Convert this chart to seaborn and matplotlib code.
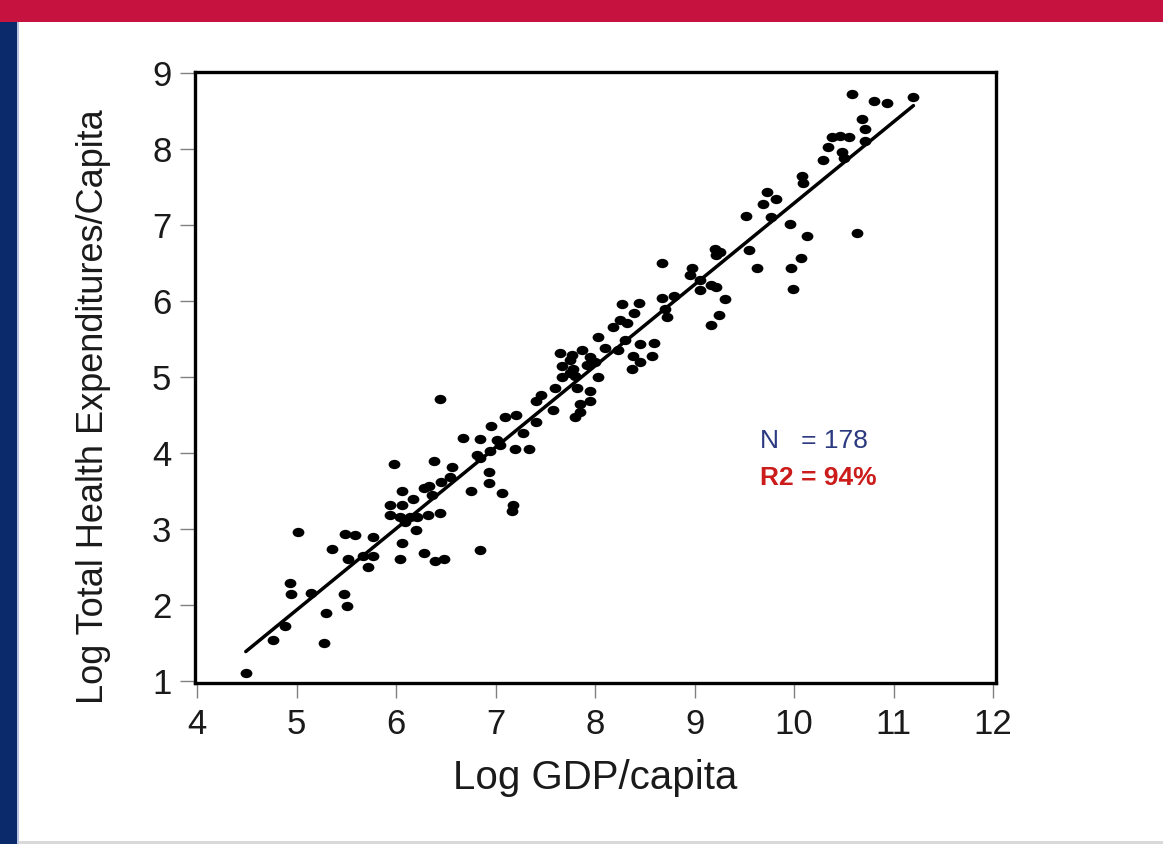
import matplotlib
matplotlib.use("Agg")
import matplotlib.pyplot as plt
from matplotlib.patches import Rectangle
from matplotlib.path import Path
from matplotlib.transforms import Affine2D
from matplotlib.markers import MarkerStyle
import seaborn as sns
import pandas as pd

# ---- data ----
log_gdp = [5.01, 5.49, 5.59, 5.77, 5.36, 5.52, 5.67, 5.77, 5.72, 4.93, 4.94, 5.15, 5.48, 5.51, 5.30, 4.88, 4.76, 5.28, 4.49,
           6.44, 5.98, 6.38, 6.56, 6.06, 6.17, 6.28, 6.33, 6.45, 6.54, 5.94, 6.06, 5.94, 6.04, 6.14, 6.21, 6.32, 6.44, 6.20,
           6.06, 6.04, 6.28, 6.39, 6.48, 6.84, 6.75, 6.93, 6.93, 7.07, 7.18, 7.17, 6.67, 6.84, 6.95, 6.81, 6.84, 6.94, 7.01,
           7.05, 7.10, 7.21, 7.20, 7.34, 7.28, 7.41, 7.41, 7.46, 7.58, 7.60, 7.67, 7.75, 7.82, 7.95, 8.03, 7.85, 7.95, 7.85,
           7.80, 6.09, 6.36, 7.80,
           7.65, 7.77, 7.87, 7.75, 7.95, 8.00, 7.67, 7.78, 7.92, 8.03, 8.30, 8.45, 8.59, 8.23, 8.10, 8.38, 8.57, 8.45, 8.37,
           8.27, 8.44, 8.39, 8.25, 8.32, 8.18,
           10.29, 10.08, 10.09, 9.73, 9.82, 9.69, 9.52, 9.77, 9.96, 10.13, 9.21, 9.26, 9.22, 9.55, 8.67, 8.97, 8.95, 9.63,
           10.07, 9.97, 9.99, 9.06, 9.06, 9.17, 9.22, 9.31, 8.67, 8.79, 8.70, 8.72, 9.25, 9.17,
           10.58, 10.80, 10.93, 11.20, 10.68, 10.71, 10.38, 10.46, 10.55, 10.34, 10.48, 10.50, 10.71, 10.63]

log_the = [2.96, 2.94, 2.92, 2.89, 2.74, 2.60, 2.64, 2.64, 2.50, 2.29, 2.14, 2.16, 2.15, 1.99, 1.89, 1.73, 1.54, 1.50, 1.11,
           4.71, 3.86, 3.90, 3.82, 3.50, 3.39, 3.54, 3.56, 3.62, 3.68, 3.31, 3.31, 3.18, 3.16, 3.16, 3.16, 3.18, 3.21, 2.99,
           2.82, 2.61, 2.68, 2.58, 2.61, 2.73, 3.50, 3.75, 3.60, 3.48, 3.32, 3.24, 4.20, 4.18, 4.35, 3.97, 3.93, 4.03, 4.17,
           4.11, 4.48, 4.50, 4.05, 4.05, 4.26, 4.41, 4.69, 4.76, 4.57, 4.85, 5.00, 5.05, 4.85, 4.82, 5.00, 4.65, 4.69, 4.54,
           4.48, 3.09, 3.45, 5.01,
           5.31, 5.29, 5.36, 5.22, 5.26, 5.20, 5.14, 5.11, 5.16, 5.53, 5.49, 5.44, 5.45, 5.36, 5.38, 5.27, 5.28, 5.20, 5.11,
           5.96, 5.97, 5.84, 5.75, 5.71, 5.66,
           7.85, 7.64, 7.55, 7.43, 7.34, 7.27, 7.12, 7.10, 7.01, 6.85, 6.69, 6.65, 6.61, 6.67, 6.50, 6.43, 6.34, 6.43,
           6.57, 6.44, 6.16, 6.28, 6.14, 6.21, 6.19, 6.03, 6.04, 6.06, 5.90, 5.79, 5.81, 5.68,
           8.72, 8.63, 8.60, 8.69, 8.39, 8.26, 8.16, 8.17, 8.16, 8.03, 7.96, 7.88, 8.10, 6.90]

x_ticks = [4, 5, 6, 7, 8, 9, 10, 11, 12]
y_ticks = [1, 2, 3, 4, 5, 6, 7, 8, 9]
x_label = "Log GDP/capita"
y_label = "Log Total Health Expenditures/Capita"
n_text = "N   = 178"
r2_text = "R2 = 94%"

df = pd.DataFrame({"gdp": log_gdp, "the": log_the})

sns.set_style("white")
plt.rcParams["font.family"] = ["Liberation Sans", "DejaVu Sans"]

fig = plt.figure(figsize=(11.63, 8.44), dpi=100)
fig.patch.set_facecolor("white")

# decorative frame bars
fig.patches.append(Rectangle((0, 0.9739), 1, 0.0261, transform=fig.transFigure,
                             facecolor="#c5123f", edgecolor="none", zorder=0))
fig.patches.append(Rectangle((0, 0), 0.0146, 0.9739, transform=fig.transFigure,
                             facecolor="#0b2a6b", edgecolor="none", zorder=0))
fig.patches.append(Rectangle((0.0146, 0), 0.0017, 0.9739, transform=fig.transFigure,
                             facecolor="#b9c5de", edgecolor="none", zorder=0))
fig.patches.append(Rectangle((0.0163, 0), 0.9837, 0.0036, transform=fig.transFigure,
                             facecolor="#d9d9d9", edgecolor="none", zorder=0))

ax = fig.add_axes([0.1677, 0.1908, 0.6887, 0.7239])

# slightly wide elliptical dot, as in the reference
ellipse = MarkerStyle(Path.unit_circle().transformed(Affine2D().scale(1.2, 0.95)))

sns.regplot(data=df, x="gdp", y="the", ax=ax, ci=None, marker=ellipse,
            scatter_kws={"s": 72, "color": "black", "linewidths": 0, "alpha": 1},
            line_kws={"color": "black", "lw": 2.5})

ax.set_xlim(3.98, 12.03)
ax.set_ylim(0.974, 9.013)
ax.set_xticks(x_ticks)
ax.set_yticks(y_ticks)

for s in ax.spines.values():
    s.set_visible(True)
    s.set_color("black")
    s.set_linewidth(2.4)

ax.tick_params(axis="both", which="major", direction="out", length=11, width=1.0,
               color="#808080", labelcolor="#1a1a1a", labelsize=25, left=True, bottom=True)
ax.tick_params(axis="x", pad=7)
ax.tick_params(axis="y", pad=6)

ax.set_xlabel(x_label, fontsize=29, color="#1a1a1a")
ax.set_ylabel(y_label, fontsize=26, color="#1a1a1a")
ax.xaxis.set_label_coords(0.5, -0.155)
ax.xaxis.label.set_va("center")
ax.yaxis.set_label_coords(-0.127, 0.453)
ax.yaxis.label.set_va("center")

ax.text(9.66, 4.16, n_text, color="#2b3a80", fontsize=19, va="center", ha="left")
ax.text(9.66, 3.67, r2_text, color="#cc1b1b", fontsize=19, fontweight="bold",
        va="center", ha="left")

fig.savefig("out.png", dpi=100, facecolor="white")
